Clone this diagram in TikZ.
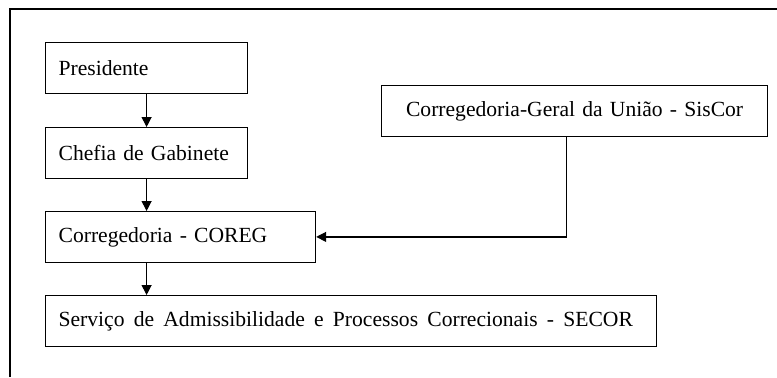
\documentclass[tikz,border=0pt]{standalone}
\usepackage{fontspec}
\setmainfont{Liberation Serif}
\usetikzlibrary{arrows.meta,positioning}

\begin{document}
\begin{tikzpicture}[x=0.5pt, y=-0.5pt, line width=0.6pt, font=\fontsize{10.8}{13}\selectfont,
  orgbox/.style={rectangle, draw, anchor=north west, align=left, inner xsep=6.5pt, inner ysep=0pt, minimum height=25.3pt},
  link/.style={-{Triangle[length=5pt, width=5pt]}}]
  \useasboundingbox (0,0) rectangle (777,377);
  % outer frame (top and left only)
  \draw (10,377) -- (10,9) -- (777,9);

  \node[orgbox, text width=88pt] (pres) at (45,42) {Presidente};
  \node[orgbox, text width=88pt] (chefia) at (45,127) {Chefia de Gabinete};
  \node[orgbox, text width=122pt] (coreg) at (45,211) {Corregedoria - COREG};
  \node[orgbox, text width=292.5pt] (secor) at (45,295) {\spaceskip=4.6pt Servi\c{c}o de Admissibilidade e Processos Correcionais - SECOR};
  \node[orgbox, align=center, text width=180pt] (siscor) at (381,85) {Corregedoria-Geral da Uni\~{a}o - SisCor};

  \draw[link] (pres.south) -- (chefia.north);
  \draw[link] (chefia.south) -- (chefia.south |- coreg.north);
  \draw[link] (chefia.south |- coreg.south) -- (chefia.south |- secor.north);
  \draw[link] ([xshift=-4pt]siscor.south) |- (coreg.east);
\end{tikzpicture}
\end{document}
